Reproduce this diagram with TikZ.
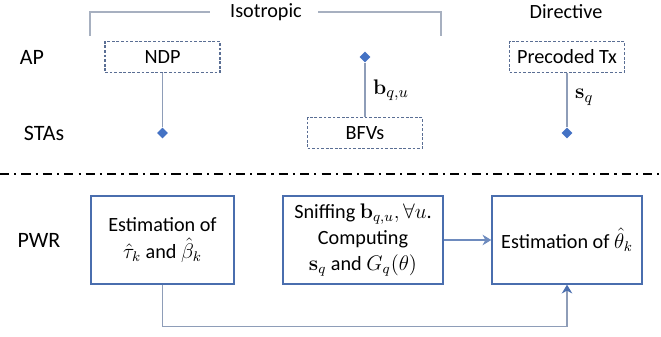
\documentclass[tikz,border=0pt]{standalone}
\usepackage{amsmath}
\usepackage[no-math]{fontspec}
\setmainfont{Carlito}
\usetikzlibrary{arrows.meta,shapes.geometric}

\definecolor{boxblue}{HTML}{4A6EAE}
\definecolor{dashblue}{HTML}{5A6E94}
\definecolor{linegray}{HTML}{8E9DB8}
\definecolor{diablue}{HTML}{4472C4}
\definecolor{brgray}{HTML}{A7B0C0}

\tikzset{
  dbox/.style={draw=dashblue,dash pattern=on 1.6pt off 1pt,line width=.7pt,minimum width=2.3cm,minimum height=.62cm,inner sep=0pt},
  pbox/.style={draw=boxblue,line width=.8pt,align=center,inner sep=0pt},
  dia/.style={diamond,fill=diablue,inner sep=0pt,minimum size=.22cm},
  conn/.style={draw=linegray,line width=.6pt},
  lbl/.style={font=\fontsize{12.5}{15}\selectfont}
}

\begin{document}
\begin{tikzpicture}[x=0.02cm,y=-0.02cm,font=\fontsize{11.5}{15}\selectfont]
          \useasboundingbox (0,0) rectangle (661,337);
          % bracket over the isotropic part
          \node (iso) at (266,12) {Isotropic};
          \node (dir) at (566,12) {Directive};
          \draw[draw=brgray,line width=.6pt] (90,36) -- (90,12) -- (210,12);
          \draw[draw=brgray,line width=.6pt] (318,12) -- (441,12) -- (441,36);
          % row labels
          \node[lbl] (ap) at (32,57) {AP};
          \node[lbl] (sta) at (44,133) {STAs};
          \node[lbl] (pwr) at (39,240) {PWR};
          % AP / STA exchange
          \node[dbox] (ndp) at (162.5,57) {NDP};
          \node[dia] (dn) at (162.5,133) {};
          \node[dia] (db) at (365,57) {};
          \node[dbox] (bfv) at (365,133) {BFVs};
          \node[dbox] (ptx) at (567,57) {Precoded Tx};
          \node[dia] (ds) at (567,133) {};
          \draw[conn] (ndp) -- (dn);
          \draw[conn] (db) -- node[right=1pt,lbl] {$\mathbf{b}_{q,u}$} (bfv);
          \draw[conn] (ptx) -- node[right=1pt,lbl,pos=.45] {$\mathbf{s}_q$} (ds);
          % separator
          \draw[line width=1.7pt,dash pattern=on 5.2pt off 2.9pt on 1.2pt off 2.9pt] (0,174) -- (661,174);
          % PWR side
          \node[pbox,minimum width=2.86cm,minimum height=1.76cm] (est1) at (162.5,240) {Estimation of\\$\hat{\tau}_k$ and $\hat{\beta}_k$};
          \node[pbox,minimum width=3.2cm,minimum height=1.76cm] (snf) at (363,240) {Sniffing $\mathbf{b}_{q,u}, \forall u$.\\Computing\\$\mathbf{s}_q$ and $G_q(\theta)$};
          \node[pbox,minimum width=3cm,minimum height=1.76cm] (est2) at (567,240) {Estimation of $\hat{\theta}_k$};
          \draw[conn,draw=boxblue!80,-{Stealth[length=5pt,width=6pt]}] (snf) -- (est2);
          \draw[conn,-{Stealth[length=5pt,width=6pt,color=boxblue]}] (est1.south) -- ++(0,42) -| (est2.south);
        \end{tikzpicture}
\end{document}
